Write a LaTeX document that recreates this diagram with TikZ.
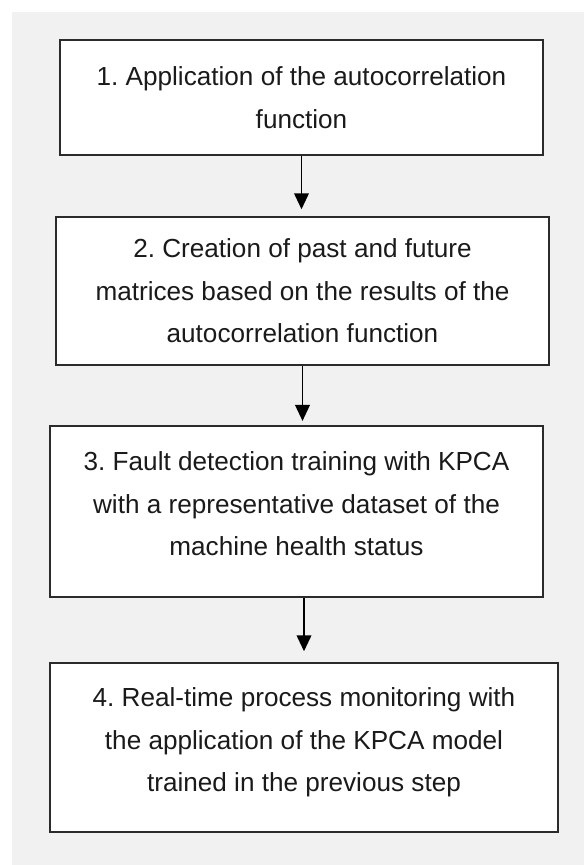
\documentclass[tikz,border=0pt]{standalone}
\usepackage{fontspec}
\setmainfont{Liberation Sans}
\usepackage{tikz}
\usetikzlibrary{arrows.meta}
\frenchspacing
\definecolor{panelgray}{HTML}{F1F1F1}
\definecolor{boxline}{HTML}{2B2B2B}
\definecolor{steptext}{HTML}{1A1A1A}
\tikzset{
    stepbox/.style={draw=boxline, line width=1.6pt, fill=white, align=center,
        inner sep=0pt, text=steptext, font=\fontsize{19.6}{31.9}\selectfont},
    flowarrow/.style={draw=black, line width=1.3pt,
        -{Triangle[length=12pt,width=11pt]}}
}

\begin{document}
\begin{tikzpicture}[x=0.75pt,y=-0.75pt]
                \path[fill=white]
                    (0,0) rectangle (584,865);
                \path[fill=panelgray]
                    (12,12) rectangle (584,865);
                \node[stepbox, minimum width=483*0.75pt, minimum height=115*0.75pt]
                    (s1) at (301.5,97.5)
                    {1. Application of the autocorrelation\\function};
                \node[stepbox, minimum width=493*0.75pt, minimum height=148*0.75pt]
                    (s2) at (302.5,291)
                    {2. Creation of past and future\\matrices based on the results of the\\autocorrelation function};
                \node[stepbox, minimum width=493*0.75pt, minimum height=171*0.75pt]
                    (s3) at (296.5,511.5)
                    {3. Fault detection training with KPCA\\with a representative dataset of the\\machine health status\\[-20pt]};
                \node[stepbox, minimum width=508*0.75pt, minimum height=169*0.75pt]
                    (s4) at (304,747.5)
                    {4. Real-time process monitoring with\\the application of the KPCA model\\trained in the previous step\\[-20pt]};
                \path[flowarrow, shorten >=5pt]
                    (s1.south) -- (s1.south |- s2.north);
                \path[flowarrow, shorten >=3pt]
                    (s2.south) -- (s2.south |- s3.north);
                \path[flowarrow, shorten >=8pt]
                    (s3.south -| s4.north) -- (s4.north);
            \end{tikzpicture}
\end{document}
